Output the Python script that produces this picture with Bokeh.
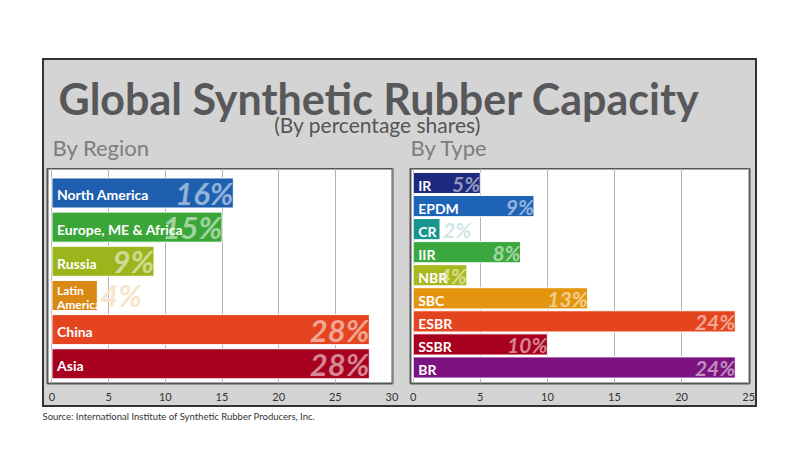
from bokeh.plotting import figure
from bokeh.layouts import column, row
from bokeh.models import Spacer, Range1d, ColumnDataSource, FixedTicker
from bokeh.core.properties import value
from bokeh.embed import file_html
from bokeh.resources import INLINE

# ---------------- data ----------------
regions = ["North America", "Europe, ME & Africa", "Russia", "Latin\nAmerica", "China", "Asia"]
region_share = [16, 15, 9, 4, 28, 28]
region_colors = ["#1f5fb0", "#3aa637", "#9bb51c", "#d98813", "#e4441f", "#a8001f"]
region_ticks = [0, 5, 10, 15, 20, 25, 30]

types = ["IR", "EPDM", "CR", "IIR", "NBR", "SBC", "ESBR", "SSBR", "BR"]
type_share = [5, 9, 2, 8, 4, 13, 24, 10, 24]
type_colors = ["#1d2a7e", "#1e63b6", "#19958f", "#3aa83e", "#a9b81c", "#e3950f", "#e4451e", "#a9001f", "#7c1280"]
type_ticks = [0, 5, 10, 15, 20, 25]

title_text = "Global Synthetic Rubber Capacity"
subtitle_text = "(By percentage shares)"
source_text = "Source: International Institute of Synthetic Rubber Producers, Inc."

FONT = "Lato"


def tint(c, f):
    r, g, b = int(c[1:3], 16), int(c[3:5], 16), int(c[5:7], 16)
    r, g, b = [int(round(v + (255 - v) * f)) for v in (r, g, b)]
    return "#%02x%02x%02x" % (r, g, b)


def bar_panel(cats, vals, cols, ticks, width, mb_left, mb_right, xr, yr,
              cat_size, pct_size, outside_limit):
    n = len(cats)
    pos = list(range(n - 1, -1, -1))
    outside = [v < outside_limit for v in vals]
    src = ColumnDataSource(dict(
        cat=cats, val=vals, pos=pos, color=cols,
        pct=["%d%%" % v for v in vals],
        tint=[tint(c, 0.78 if o else 0.52) for c, o in zip(cols, outside)],
        align=["left" if o else "right" for o in outside],
        off=[3 if o else 0 for o in outside],
        csize=[("%dpx" % (cat_size - 2)) if "\n" in c else ("%dpx" % cat_size) for c in cats],
    ))
    p = figure(width=width, height=237, x_range=Range1d(*xr), y_range=Range1d(*yr),
               output_backend="svg", toolbar_location=None, y_axis_location=None,
               min_border_left=mb_left, min_border_right=mb_right,
               min_border_top=0, min_border_bottom=22)
    p.border_fill_alpha = 0
    p.background_fill_color = "white"
    p.outline_line_color = "#555555"
    p.outline_line_width = 2
    p.ygrid.visible = False
    p.xgrid.ticker = FixedTicker(ticks=ticks)
    p.xgrid.grid_line_color = "#b4b4b4"
    p.xaxis.ticker = FixedTicker(ticks=ticks)
    p.xaxis.axis_line_color = None
    p.xaxis.major_tick_line_color = None
    p.xaxis.minor_tick_line_color = None
    p.xaxis.major_label_standoff = 3
    p.xaxis.major_label_text_font = FONT
    p.xaxis.major_label_text_font_size = "11px"
    p.xaxis.major_label_text_color = "#333333"

    h = 0.88 if n < 8 else 0.92
    p.hbar(y="pos", left=0, right="val", height=h, fill_color="color",
           line_color="white", line_width=1, source=src)
    p.text(x="val", y="pos", text="pct", text_align="align", x_offset="off",
           text_baseline="middle", text_font=value(FONT), text_font_style="bold italic",
           text_font_size="%dpx" % pct_size, text_color="tint", source=src)
    p.text(x=0, y="pos", text="cat", x_offset=5, y_offset=2, text_baseline="middle",
           text_font=value(FONT), text_font_style="bold", text_font_size="csize",
           text_line_height=0.95, text_color="white", source=src)
    return p


left = bar_panel(regions, region_share, region_colors, region_ticks, 357, 3, 9,
                 (-0.397, 30.044), (-0.577, 5.717), 14, 31, 5)
right = bar_panel(types, type_share, type_colors, type_ticks, 354, 9, 6,
                  (-0.2, 25.06), (-0.694, 8.629), 14, 21, 3)

# ---------------- header ----------------
header = figure(width=711, height=108, x_range=Range1d(0, 711), y_range=Range1d(108, 0),
                output_backend="svg", toolbar_location=None,
                x_axis_location=None, y_axis_location=None, min_border=0)
header.grid.visible = False
header.outline_line_color = None
header.border_fill_alpha = 0
header.background_fill_alpha = 0
header.text(x=[14], y=[38], text=[title_text], text_baseline="alphabetic",
            text_font=value(FONT), text_font_style="bold", text_font_size="43px",
            text_color="#58585a")
header.text(x=[333], y=[64], text=[subtitle_text], text_align="center",
            text_baseline="alphabetic", text_font=value(FONT), text_font_size="21px",
            text_color="#555555")
header.text(x=[8, 366], y=[87, 87], text=["By Region", "By Type"],
            text_baseline="alphabetic", text_font=value(FONT), text_font_size="22px",
            text_color="#7d7d7d")

panel = column(header, row(left, right, spacing=0), spacing=0,
               styles={"background-color": "#d4d4d4", "border": "2px solid #333333"})

# ---------------- source line ----------------
src_fig = figure(width=784, height=30, x_range=Range1d(0, 784), y_range=Range1d(30, 0),
                 output_backend="svg", toolbar_location=None,
                 x_axis_location=None, y_axis_location=None, min_border=0)
src_fig.grid.visible = False
src_fig.outline_line_color = None
src_fig.text(x=[42], y=[9], text=[source_text], text_baseline="alphabetic",
             text_font=value(FONT), text_font_size="9.5px", text_color="#333333")

page = column(Spacer(height=58), row(Spacer(width=42), panel), src_fig, spacing=0)

open("out.html", "w").write(file_html(page, INLINE))
